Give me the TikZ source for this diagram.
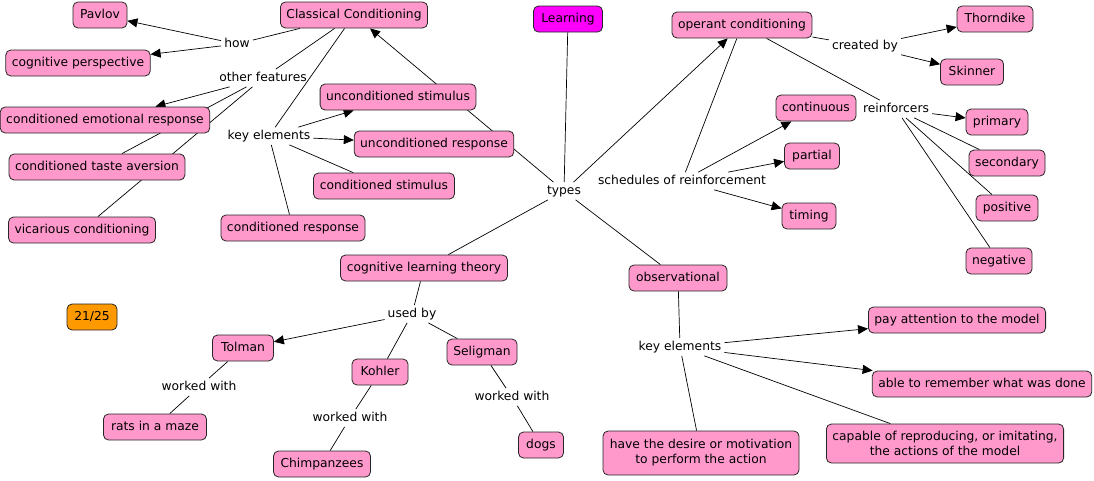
\documentclass[tikz,border=0pt]{standalone}
\usepackage{fontspec}
\setmainfont{DejaVu Sans}
\usetikzlibrary{arrows.meta,backgrounds}
\definecolor{cpink}{HTML}{FF99CC}
\definecolor{cmag}{HTML}{FF00FF}
\definecolor{corange}{HTML}{FF9900}
\tikzset{
  every node/.style={font=\fontsize{12.3}{14.3}\selectfont},
  concept/.style={draw=black!85, fill=cpink, rounded corners=5pt, line width=0.8pt,
    inner xsep=6pt, inner ysep=0pt, minimum height=26pt, text height=8.8pt, text depth=2.5pt,
    minimum width=#1},
  concept/.default=10pt,
  concepttwo/.style={draw=black!85, fill=cpink, rounded corners=5pt, line width=0.8pt,
    inner xsep=6pt, inner ysep=3pt, align=center, font=\fontsize{12.3}{15}\selectfont},
  lbl/.style={inner sep=3pt, text height=8.8pt, text depth=2.5pt},
  conn/.style={line width=0.7pt, black},
  arr/.style={conn, -{Triangle[length=10pt,width=9pt]}},
}
\begin{document}
\begin{tikzpicture}[x=1pt,y=-1pt]
\useasboundingbox (0,0) rectangle (1094,480);
% concepts
\node[concept=54pt] (pavlov) at (100,15) {Pavlov};
\node[concept=147pt] (cc) at (354,15) {Classical Conditioning};
\node[concept=69pt, fill=cmag] (learning) at (568,19) {Learning};
\node[concept=139pt] (oc) at (742,25) {operant conditioning};
\node[concept=76pt] (thorndike) at (995,19) {Thorndike};
\node[concept=63pt] (skinner) at (972,72) {Skinner};
\node[concept=142pt] (cogper) at (78,63) {cognitive perspective};
\node[concept=207pt] (cer) at (105,120) {conditioned emotional response};
\node[concept=154pt] (us) at (398,97) {unconditioned stimulus};
\node[concept=159pt] (ur) at (434,144) {unconditioned response};
\node[concept=174pt] (cta) at (97,167) {conditioned taste aversion};
\node[concept=141pt] (cs) at (384,186) {conditioned stimulus};
\node[concept=147pt] (vic) at (82,230) {vicarious conditioning};
\node[concept=142pt] (cr) at (293,228) {conditioned response};
\node[concept=80pt] (continuous) at (816,108) {continuous};
\node[concept=55pt] (partial) at (812,156) {partial};
\node[concept=54pt] (timing) at (809,216) {timing};
\node[concept=62pt] (primary) at (997,122) {primary};
\node[concept=76pt] (secondary) at (1007,163) {secondary};
\node[concept=62pt] (positive) at (1007,208) {positive};
\node[concept=66pt] (negative) at (999,261) {negative};
\node[concept=167pt] (clt) at (424,268) {cognitive learning theory};
\node[concept=98pt] (obs) at (678,278) {observational};
\node[concept=50pt, fill=corange] (score) at (92,317) {21/25};
\node[concept=61pt] (tolman) at (243,348) {Tolman};
\node[concept=56pt] (kohler) at (380,372) {Kohler};
\node[concept=70pt] (seligman) at (482,352) {Seligman};
\node[concept=103pt] (rats) at (155,427) {rats in a maze};
\node[concept=97pt] (chimp) at (322,464) {Chimpanzees};
\node[concept=45pt] (dogs) at (541,445) {dogs};
\node[concept=177pt] (attn) at (957,320) {pay attention to the model};
\node[concept=219pt] (remember) at (982,384) {able to remember what was done};
\node[concepttwo, minimum height=39pt, minimum width=236pt] (capable) at (945,443.5) {capable of reproducing, or imitating,\\the actions of the model};
\node[concepttwo, minimum height=44pt, minimum width=196pt] (desire) at (701,453) {have the desire or motivation\\to perform the action};
% linking phrases
\node[lbl] (how) at (237,44) {how};
\node[lbl] (other) at (263,78) {other features};
\node[lbl] (keycc) at (269,136) {key elements};
\node[lbl] (types) at (564,191) {types};
\node[lbl] (created) at (865,46) {created by};
\node[lbl] (reinf) at (896,109) {reinforcers};
\node[lbl] (sched) at (682,181) {schedules of reinforcement};
\node[lbl] (usedby) at (412,314) {used by};
\node[lbl] (wwt) at (199,387) {worked with};
\node[lbl] (wwk) at (350,418) {worked with};
\node[lbl] (wws) at (512,397) {worked with};
\node[lbl] (keyobs) at (680,347) {key elements};
\begin{pgfonlayer}{background}
\fill[white] (0,0) rectangle (1094,480);
\draw[conn] (cc) -- (how);
\draw[arr] (how) -- (pavlov);
\draw[arr] (how) -- (cogper);
\draw[conn] (cc) -- (other);
\draw[arr] (other) -- (cer);
\draw[conn] (other) -- (cta);
\draw[conn] (other) -- (vic);
\draw[conn] (cc) -- (keycc);
\draw[arr] (keycc) -- (us);
\draw[arr] (keycc) -- (ur);
\draw[conn] (keycc) -- (cs);
\draw[conn] (keycc) -- (cr);
\draw[arr] (types) -- (cc);
\draw[conn] (learning) -- (types);
\draw[arr] (types) -- (oc);
\draw[conn] (types) -- (clt);
\draw[conn] (types) -- (obs);
\draw[conn] (oc) -- (created);
\draw[arr] (created) -- (thorndike);
\draw[arr] (created) -- (skinner);
\draw[conn] (oc) -- (reinf);
\draw[arr] (reinf) -- (primary);
\draw[conn] (reinf) -- (secondary);
\draw[conn] (reinf) -- (positive);
\draw[conn] (reinf) -- (negative);
\draw[conn] (oc) -- (sched);
\draw[arr] (sched) -- (continuous);
\draw[arr] (sched) -- (partial);
\draw[arr] (sched) -- (timing);
\draw[conn] (clt) -- (usedby);
\draw[arr] (usedby) -- (tolman);
\draw[conn] (usedby) -- (kohler);
\draw[conn] (usedby) -- (seligman);
\draw[conn] (tolman) -- (wwt);
\draw[conn] (wwt) -- (rats);
\draw[conn] (kohler) -- (wwk);
\draw[conn] (wwk) -- (chimp);
\draw[conn] (seligman) -- (wws);
\draw[conn] (wws) -- (dogs);
\draw[conn] (obs) -- (keyobs);
\draw[arr] (keyobs) -- (attn);
\draw[arr] (keyobs) -- (remember);
\draw[conn] (keyobs) -- (capable);
\draw[conn] (keyobs) -- (desire);
\end{pgfonlayer}
\end{tikzpicture}
\end{document}
